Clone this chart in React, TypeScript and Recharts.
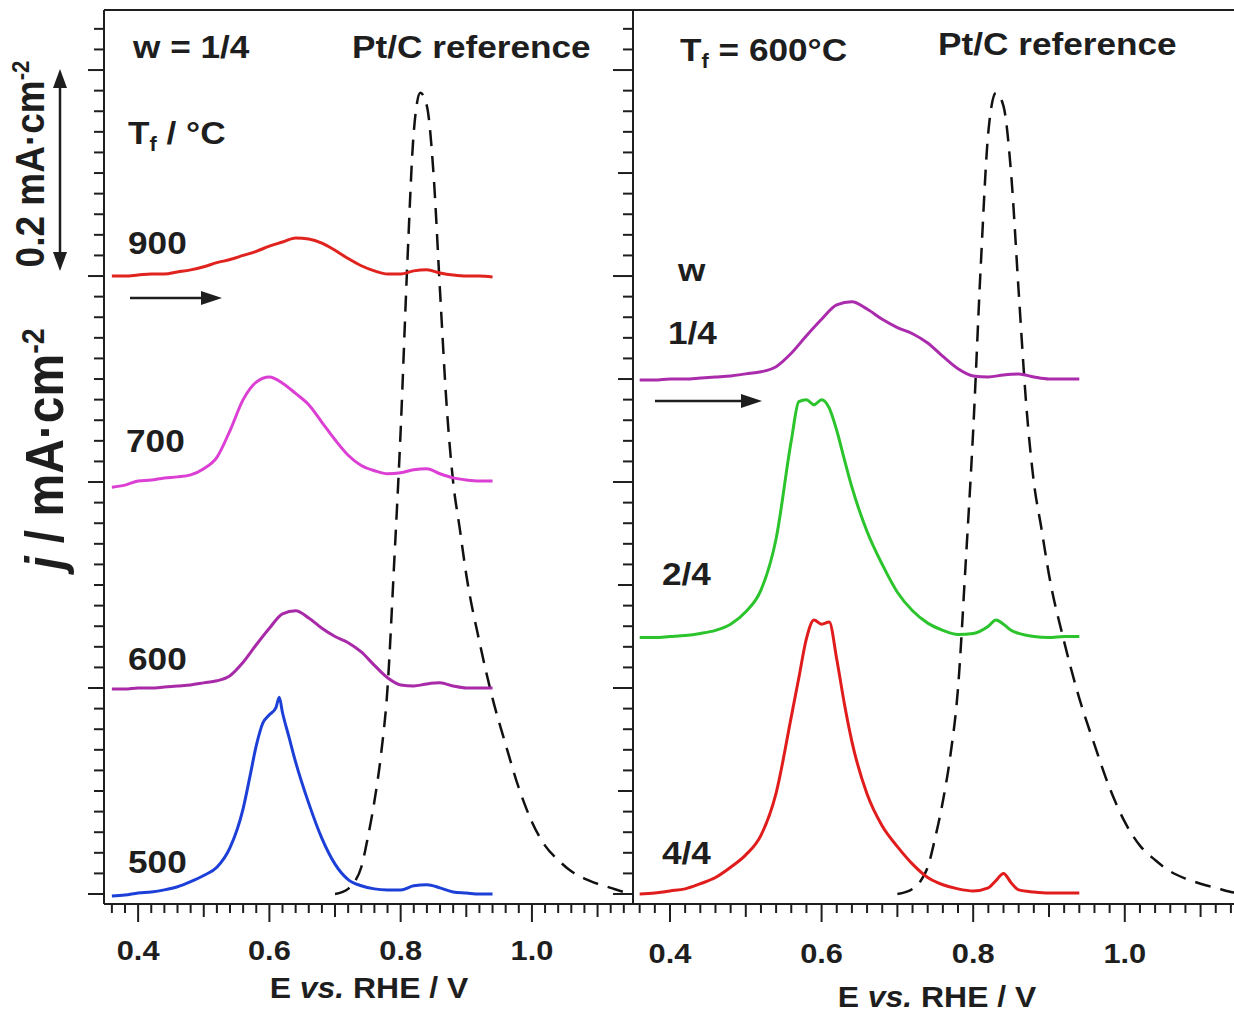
import React from 'react';
import { LineChart, Line, XAxis, YAxis, ReferenceLine } from 'recharts';

const FONT = '"Liberation Sans", Arial, Helvetica, sans-serif';
const INK = '#1e1e1e';

// potentials, V vs RHE
const E_T = [0.36, 0.38, 0.4, 0.42, 0.44, 0.46, 0.48, 0.5, 0.52, 0.54, 0.56, 0.58, 0.6, 0.62, 0.64,
  0.66, 0.68, 0.7, 0.72, 0.74, 0.76, 0.78, 0.8, 0.82, 0.84, 0.86, 0.88, 0.9, 0.92, 0.94];
const E_SHARP = [0.36, 0.38, 0.4, 0.42, 0.44, 0.46, 0.48, 0.5, 0.52, 0.54, 0.56, 0.57, 0.58, 0.59, 0.6,
  0.61, 0.62, 0.63, 0.64, 0.66, 0.68, 0.7, 0.72, 0.74, 0.76, 0.78, 0.8, 0.82, 0.83, 0.84, 0.85, 0.86,
  0.88, 0.9, 0.92, 0.94];
const E_500 = [0.36, 0.38, 0.4, 0.42, 0.44, 0.46, 0.48, 0.5, 0.52, 0.54, 0.56, 0.57, 0.58, 0.59, 0.6,
  0.61, 0.615, 0.62, 0.63, 0.64, 0.66, 0.68, 0.7, 0.72, 0.74, 0.76, 0.78, 0.8, 0.82, 0.84, 0.86, 0.88,
  0.9, 0.92, 0.94];
const E_PT = [0.7, 0.72, 0.73, 0.74, 0.75, 0.76, 0.77, 0.78, 0.79, 0.8, 0.81, 0.82, 0.83, 0.84, 0.85,
  0.86, 0.87, 0.88, 0.89, 0.9, 0.92, 0.94, 0.96, 0.98, 1.0, 1.02, 1.04, 1.06, 1.08, 1.1, 1.12, 1.14, 1.16];

// current density above each trace's own baseline, mA cm-2
const J_900 = [0, 0, 0.001, 0.002, 0.002, 0.004, 0.006, 0.009, 0.013, 0.016, 0.02, 0.024, 0.029, 0.033,
  0.037, 0.036, 0.032, 0.025, 0.017, 0.01, 0.005, 0.002, 0.002, 0.005, 0.006, 0.003, 0.001, 0, 0, -0.001];
const J_700 = [-0.005, -0.003, 0.001, 0.002, 0.004, 0.005, 0.007, 0.013, 0.024, 0.05, 0.08, 0.097,
  0.102, 0.096, 0.086, 0.075, 0.058, 0.041, 0.026, 0.016, 0.011, 0.008, 0.009, 0.012, 0.013, 0.008,
  0.004, 0.002, 0.001, 0.001];
// w = 1/4, Tf = 600 °C (same trace in both panels)
const J_600 = [-0.001, -0.001, 0, 0, 0.001, 0.002, 0.003, 0.005, 0.007, 0.012, 0.025, 0.042, 0.058,
  0.072, 0.075, 0.068, 0.058, 0.05, 0.044, 0.035, 0.022, 0.01, 0.003, 0.002, 0.004, 0.005, 0.002, 0, 0, 0];
const J_500 = [-0.002, -0.001, 0.001, 0.002, 0.004, 0.007, 0.012, 0.018, 0.026, 0.045, 0.083, 0.113,
  0.144, 0.166, 0.174, 0.181, 0.191, 0.176, 0.152, 0.128, 0.088, 0.054, 0.029, 0.014, 0.008, 0.005,
  0.004, 0.004, 0.008, 0.009, 0.006, 0.002, 0.001, 0, 0];
const J_W24 = [-0.001, -0.001, 0, 0.001, 0.003, 0.006, 0.012, 0.024, 0.045, 0.095, 0.19, 0.228, 0.23,
  0.225, 0.23, 0.222, 0.2, 0.172, 0.145, 0.102, 0.07, 0.043, 0.025, 0.013, 0.006, 0.002, 0.003, 0.01,
  0.016, 0.012, 0.006, 0.003, 0, -0.001, 0, 0];
const J_W44 = [0, 0.001, 0.003, 0.005, 0.01, 0.016, 0.026, 0.038, 0.057, 0.098, 0.172, 0.21, 0.248,
  0.266, 0.262, 0.264, 0.228, 0.185, 0.148, 0.097, 0.066, 0.046, 0.029, 0.016, 0.009, 0.005, 0.003,
  0.006, 0.013, 0.02, 0.011, 0.004, 0.002, 0.001, 0.001, 0.001];
const J_PT = [0, 0.005, 0.012, 0.026, 0.055, 0.09, 0.135, 0.2, 0.32, 0.45, 0.61, 0.74, 0.778, 0.765,
  0.7, 0.585, 0.475, 0.4, 0.355, 0.31, 0.245, 0.19, 0.145, 0.103, 0.07, 0.047, 0.033, 0.022, 0.015,
  0.01, 0.006, 0.002, 0];

// vertical offsets of the stacked traces
const OFFSETS_TF = { t500: 0, t600: 0.2, t700: 0.4, t900: 0.6 };
const OFFSETS_W = { w44: 0, w24: 0.25, w14: 0.5 };

const X_TICK_LABELS = [0.4, 0.6, 0.8, 1.0];
const X_TICKS = Array.from({ length: 40 }, (_, i) => Math.round((0.36 + i * 0.02) * 100) / 100);
const Y_TICKS = Array.from({ length: 43 }, (_, i) => Math.round(i * 2) / 100);
const Y_DOMAIN: [number, number] = [-0.0097, 0.8583];

const pts = (E: number[], j: number[], off: number) =>
  E.map((e, i) => ({ E: e, j: Math.round((j[i] + off) * 10000) / 10000 }));

const isLabelled = (v: number) => X_TICK_LABELS.some((t) => Math.abs(t - v) < 1e-6);

const xTick = (labelDy: number) => (props: any) => {
  const { x, y, payload } = props;
  const k = Math.round(payload.value * 50);
  const len = k % 10 === 0 ? 18 : k % 5 === 0 ? 13 : 9;
  return (
    <g>
      <line x1={x} x2={x} y1={y} y2={y + len} stroke={INK} strokeWidth={2} />
      {isLabelled(payload.value) && (
        <text transform={`translate(${x},${y + labelDy}) scale(1.1,1)`} textAnchor="middle"
          fontFamily={FONT} fontWeight="bold" fontSize={28} fill={INK}>
          {payload.value.toFixed(1)}
        </text>
      )}
    </g>
  );
};

const yTick = (medium: boolean, long: number) => (props: any) => {
  const { x, y, payload } = props;
  const k = Math.round(payload.value * 50);
  const len = k % 10 === 0 ? long : medium && k % 5 === 0 ? 15 : 10;
  return <line x1={x} x2={x - len} y1={y} y2={y} stroke={INK} strokeWidth={2} />;
};

type Series = { key: string; E: number[]; j: number[]; off: number; color: string };

const LEFT: Series[] = [
  { key: '900', E: E_T, j: J_900, off: OFFSETS_TF.t900, color: '#e0231f' },
  { key: '700', E: E_T, j: J_700, off: OFFSETS_TF.t700, color: '#dc3fd4' },
  { key: '600', E: E_T, j: J_600, off: OFFSETS_TF.t600, color: '#a82aa8' },
  { key: '500', E: E_500, j: J_500, off: OFFSETS_TF.t500, color: '#1c3fd8' },
];
const RIGHT: Series[] = [
  { key: '1/4', E: E_T, j: J_600, off: OFFSETS_W.w14, color: '#aa2cac' },
  { key: '2/4', E: E_SHARP, j: J_W24, off: OFFSETS_W.w24, color: '#2cc42c' },
  { key: '4/4', E: E_SHARP, j: J_W44, off: OFFSETS_W.w44, color: '#e01c1c' },
];

function Panel(p: {
  left: number; width: number; margin: any; xDomain: [number, number]; series: Series[];
  labelDy: number; medium: boolean; longTick: number; rightBorder: boolean;
}) {
  return (
    <div style={{ position: 'absolute', left: p.left, top: 0 }}>
      <LineChart width={p.width} height={1012} margin={p.margin}>
        <XAxis type="number" dataKey="E" domain={p.xDomain} allowDataOverflow ticks={X_TICKS} interval={0}
          tickSize={0} tickMargin={0} tickLine={false} tick={xTick(p.labelDy)} height={100}
          axisLine={{ stroke: INK, strokeWidth: 2 }} />
        <YAxis type="number" domain={Y_DOMAIN} allowDataOverflow ticks={Y_TICKS} interval={0} width={20}
          tickSize={0} tickMargin={0} tickLine={false} tick={yTick(p.medium, p.longTick)}
          axisLine={{ stroke: INK, strokeWidth: 2 }} />
        <ReferenceLine y={Y_DOMAIN[1]} stroke={INK} strokeWidth={2} />
        {p.rightBorder && <ReferenceLine x={p.xDomain[1]} stroke={INK} strokeWidth={2} />}
        <Line data={pts(E_PT, J_PT, 0)} dataKey="j" type="monotone" stroke="#111" strokeWidth={2.5}
          strokeDasharray="16 10" dot={false} activeDot={false} isAnimationActive={false} />
        {p.series.map((s) => (
          <Line key={s.key} data={pts(s.E, s.j, s.off)} dataKey="j" type="monotone" stroke={s.color}
            strokeWidth={3} dot={false} activeDot={false} isAnimationActive={false} />
        ))}
      </LineChart>
    </div>
  );
}

function Txt(p: { x: number; cy: number; size?: number; center?: boolean; children: React.ReactNode }) {
  const size = p.size ?? 32;
  return (
    <div style={{
      position: 'absolute', left: p.x, top: p.cy - 0.49 * size, fontFamily: FONT, fontWeight: 'bold',
      fontSize: size, lineHeight: 1, whiteSpace: 'nowrap', color: INK,
      transform: p.center ? 'translate(-50%, 0) scaleX(1.1)' : 'scaleX(1.1)',
      transformOrigin: p.center ? 'center' : 'left center',
    }}>
      {p.children}
    </div>
  );
}

function VTxt(p: { cx: number; cy: number; size: number; children: React.ReactNode }) {
  return (
    <div style={{
      position: 'absolute', left: p.cx, top: p.cy, fontFamily: FONT, fontWeight: 'bold', fontSize: p.size,
      lineHeight: 1, whiteSpace: 'nowrap', color: INK,
      transform: 'translate(-50%, -50%) scale(1.1, 1) rotate(-90deg)',
    }}>
      {p.children}
    </div>
  );
}

const Sub = ({ children }: any) => (
  <span style={{ fontSize: '0.62em', position: 'relative', top: '0.32em' }}>{children}</span>
);
const Sup = ({ children }: any) => (
  <span style={{ fontSize: '0.6em', position: 'relative', top: '-0.6em' }}>{children}</span>
);

export default function App() {
  return (
    <div style={{ position: 'absolute', left: 0, top: 0, width: 1234, height: 1012, overflow: 'hidden', background: '#fff' }}>
      <Panel left={0} width={640} margin={{ top: 10, right: 7, bottom: 8, left: 84 }} xDomain={[0.348, 1.154]}
        series={LEFT} labelDy={56} medium={false} longTick={16} rightBorder />
      <Panel left={600} width={640} margin={{ top: 10, right: 0, bottom: 8, left: 13 }} xDomain={[0.3512, 1.152]}
        series={RIGHT} labelDy={59} medium longTick={20} rightBorder={false} />

      {/* left panel text */}
      <Txt x={133} cy={47}>w = 1/4</Txt>
      <Txt x={352} cy={47}>Pt/C reference</Txt>
      <Txt x={128} cy={133}>T<Sub>f</Sub> / °C</Txt>
      <Txt x={128} cy={243}>900</Txt>
      <Txt x={126} cy={441}>700</Txt>
      <Txt x={128} cy={659}>600</Txt>
      <Txt x={128} cy={862}>500</Txt>
      <Txt x={369} cy={988} size={29} center>E <i>vs.</i> RHE / V</Txt>

      {/* right panel text */}
      <Txt x={680} cy={50}>T<Sub>f</Sub> = 600°C</Txt>
      <Txt x={938} cy={44}>Pt/C reference</Txt>
      <Txt x={678} cy={270}>w</Txt>
      <Txt x={668} cy={333}>1/4</Txt>
      <Txt x={662} cy={574}>2/4</Txt>
      <Txt x={662} cy={853}>4/4</Txt>
      <Txt x={937} cy={997} size={29} center>E <i>vs.</i> RHE / V</Txt>

      {/* axis title and scale bar */}
      <VTxt cx={45} cy={449} size={48}><i>j</i> / mA·cm<Sup>-2</Sup></VTxt>
      <VTxt cx={30} cy={164} size={37}>0.2 mA·cm<Sup>-2</Sup></VTxt>

      <svg width={1234} height={1012} style={{ position: 'absolute', left: 0, top: 0, pointerEvents: 'none' }}>
        <line x1={60} y1={84} x2={60} y2={256} stroke={INK} strokeWidth={2.5} />
        <polygon points="60,69 53,88 67,88" fill={INK} />
        <polygon points="60,271 53,252 67,252" fill={INK} />
        <line x1={130} y1={298} x2={205} y2={298} stroke={INK} strokeWidth={2.5} />
        <polygon points="222,298 201,291 201,305" fill={INK} />
        <line x1={655} y1={401} x2={745} y2={401} stroke={INK} strokeWidth={2.5} />
        <polygon points="762,401 741,394 741,408" fill={INK} />
      </svg>
    </div>
  );
}
